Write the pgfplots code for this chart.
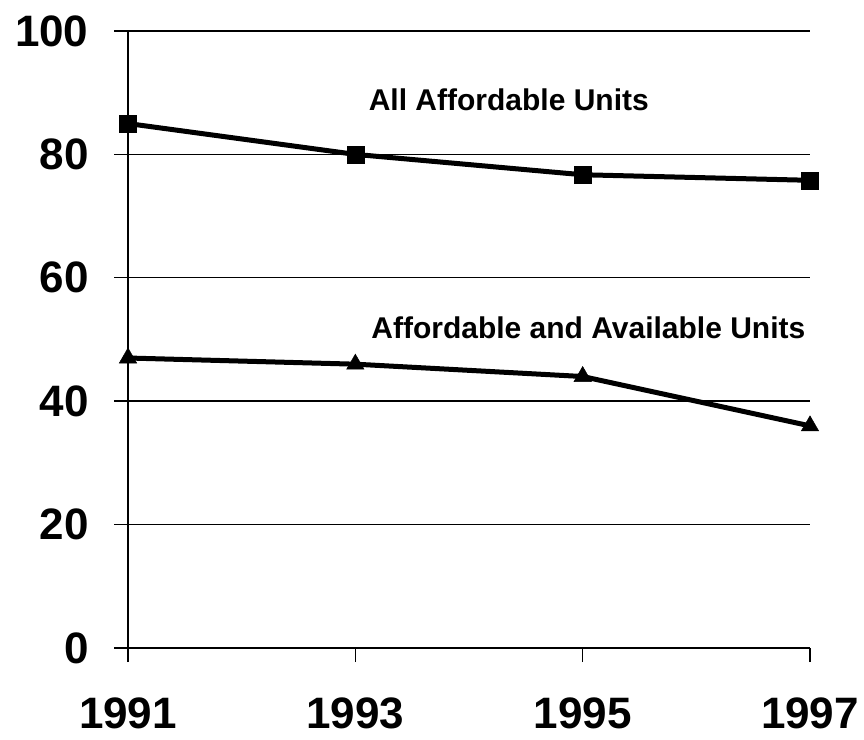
\documentclass[border=0pt]{standalone}
\usepackage{pgfplots}
\pgfplotsset{compat=1.18}
\usepackage{fontspec}
\setmainfont{Liberation Sans}
\begin{document}
\begin{tikzpicture}[x=1pt,y=1pt]
\path[use as bounding box] (-128,-91) rectangle (736,648);
\begin{axis}[
  at={(0,0)}, anchor=origin,
  scale only axis, width=682pt, height=617pt,
  xmin=1991, xmax=1997, ymin=0, ymax=100,
  axis lines=left, axis line style={-, line width=1.6pt},
  xtick={1991,1993,1995,1997},
  xticklabels={1991,1993,1995,1997},
  ytick={0,20,40,60,80,100},
  ymajorgrids, grid style={black, line width=1.4pt},
  tick align=outside,
  major tick length=14pt,
  tick style={black, line width=1.4pt},
  tick label style={font=\fontsize{44}{44}\selectfont\bfseries},
  /pgf/number format/assume math mode=true,
  yticklabel style={xshift=-22pt},
  xticklabel style={yshift=-32pt},
  clip=false,
]
\addplot[black, line width=5pt, mark=square*, mark size=8.5pt, mark options={solid, line width=0.5pt}]
  coordinates {(1991,85) (1993,80) (1995,76.7) (1997,75.8)};
\addplot[black, line width=5pt, mark=triangle*, mark size=10pt, mark options={solid, line width=0.5pt}]
  coordinates {(1991,47) (1993,46) (1995,44) (1997,36)};
\node[font=\fontsize{30}{30}\selectfont\bfseries] at (axis cs:1994.35,88.8) {All Affordable Units};
\node[font=\fontsize{30}{30}\selectfont\bfseries] at (axis cs:1995.05,51.9) {Affordable and Available Units};
\end{axis}
\end{tikzpicture}
\end{document}
